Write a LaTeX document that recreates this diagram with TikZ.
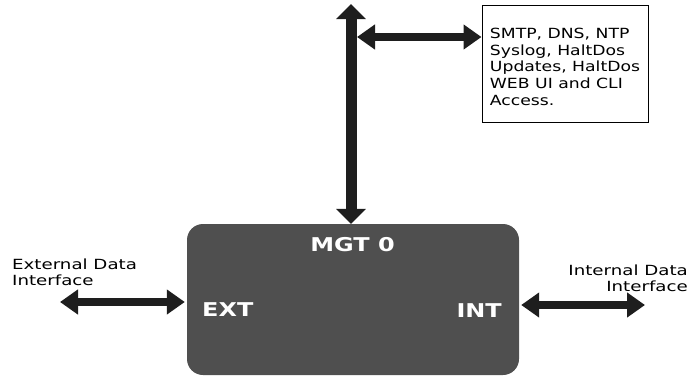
\documentclass[tikz,border=0pt]{standalone}
\usepackage{fontspec}
\usetikzlibrary{arrows.meta}
\newfontfamily\lblfont[FakeStretch=1.3]{DejaVu Sans}
\newfontfamily\boxfont[FakeStretch=1.23]{DejaVu Sans}
\newfontfamily\tagfont[FakeStretch=1.26]{DejaVu Sans}
\definecolor{shaft}{HTML}{1E1E1E}
\definecolor{boxgrey}{HTML}{4F4F4F}
\tikzset{
  hlink/.style={shaft, line width=8.5pt,
    {Triangle[width=24pt,length=18pt]}-{Triangle[width=24pt,length=18pt]}},
  vlink/.style={shaft, line width=11pt,
    {Triangle[width=29pt,length=15pt]}-{Triangle[width=29pt,length=15pt]}},
  tag/.style={text=white, inner sep=0pt, font=\tagfont\bfseries\fontsize{19}{22}\selectfont},
  caption/.style={inner sep=0pt, font=\lblfont\fontsize{14}{16}\selectfont},
}
\begin{document}
\begin{tikzpicture}[x=1pt,y=-1pt]
\useasboundingbox (0,0) rectangle (694,376);

% management appliance body
\node (mgt) [fill=boxgrey, rounded corners=16pt, minimum width=332pt,
  minimum height=151pt, inner sep=0pt] at (353,299.5) {};
\node (mgttag) [tag, anchor=base] at (352.5,251) {MGT 0};
\node (exttag) [tag, anchor=base west] at (202,316.7) {EXT};
\node (inttag) [tag, anchor=base east] at (502,317.3) {INT};

% services reached through the management port
\node (svc) [draw=black, line width=1pt, minimum width=166pt, minimum height=117pt,
  inner sep=0pt, font=\boxfont\fontsize{14}{16.8}\selectfont] at (565,63.5)
  {\raisebox{-5pt}[\height][\depth]{\begin{tabular}[t]{@{}l@{}}SMTP, DNS, NTP\\Syslog, HaltDos\\Updates, HaltDos\\WEB UI and CLI\\Access.\end{tabular}}};

% management uplink and branch to the services box
\coordinate (up) at (351,4);
\coordinate (branch) at (357,37);
\draw[vlink] (up) -- (up |- mgt.north);
\draw[hlink] (branch) -- (branch -| svc.west);

% data interfaces
\coordinate (extend) at (60,302);
\coordinate (intend) at (645,305);
\draw[hlink, shorten >=2pt] (extend) -- (extend -| mgt.west);
\draw[hlink, shorten <=2pt] (intend -| mgt.east) -- (intend);

\node (extlbl) [caption, anchor=base west] at (12,269.5)
  {\begin{tabular}[t]{@{}l@{}}External Data\\Interface\end{tabular}};
\node (intlbl) [caption, anchor=base east] at (688,275)
  {\begin{tabular}[t]{@{}r@{}}Internal Data\\Interface\end{tabular}};
\end{tikzpicture}
\end{document}
